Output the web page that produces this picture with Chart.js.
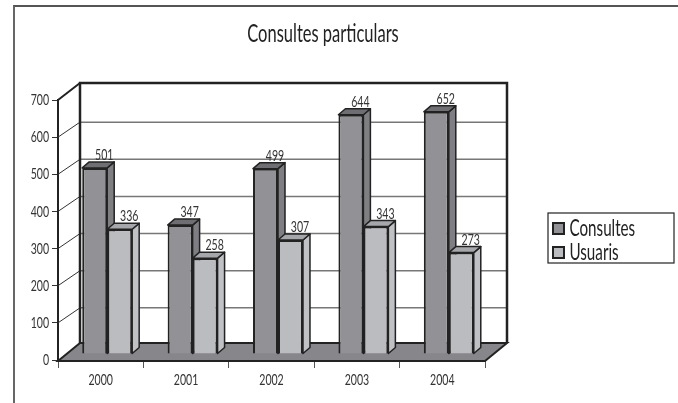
<!DOCTYPE html>
<html>
<head>
<meta charset="utf-8">
<title>Consultes particulars</title>
<script src="https://cdn.jsdelivr.net/npm/chart.js@4"></script>
<style>
	html, body { margin: 0; padding: 0; background: #fff; overflow: hidden; }
	#frame { position: absolute; left: 13px; top: 5px; width: 665px; height: 398px; border-left: 2px solid #666; border-top: 2px solid #555; box-sizing: border-box; }
	#wrap { position: absolute; left: 0; top: 0; width: 678px; height: 403px; }
</style>
</head>
<body>
<div id="frame"></div>
<div id="wrap"><canvas id="myChart" width="678" height="403"></canvas></div>
<script>
const years = ['2000', '2001', '2002', '2003', '2004'];
const consultes = [501, 347, 499, 644, 652];
const usuaris = [336, 258, 307, 343, 273];
const yTicks = [0, 100, 200, 300, 400, 500, 600, 700];

const face = 'Lato, sans-serif';
const ink = '#222';

//depth of the box the chart stands in, and of the bars inside it
const wall = {dx: 22, dy: -18, gridDy: -15};
const barShift = {dx: 6.5, dy: -6};
const barDepth = {dx: 7, dy: -6};

function poly(ctx, pts, fill, stroke, width) {
	ctx.beginPath();
	pts.forEach((p, i) => i ? ctx.lineTo(p[0], p[1]) : ctx.moveTo(p[0], p[1]));
	ctx.closePath();
	if (fill) {
		ctx.fillStyle = fill;
		ctx.fill();
	}
	if (stroke) {
		ctx.strokeStyle = stroke;
		ctx.lineWidth = width;
		ctx.stroke();
	}
}

const box3d = {
	id: 'box3d',

	//title and legend sit where the picture has them, not where the layout puts them
	afterLayout(chart) {
		chart.titleBlock.left = 0;
		chart.titleBlock.right = 646;
		const lg = chart.legend;
		lg.left = 552;
		lg.top = 216;
		lg.right = 674;
		lg.bottom = 403;
	},

	beforeDatasetsDraw(chart) {
		const ctx = chart.ctx;
		const x = chart.scales.x, y = chart.scales.y;
		const l = x.left, r = x.right, b = y.getPixelForValue(0) + 1, t = y.getPixelForValue(700);

		ctx.save();
		ctx.lineJoin = 'miter';

		//grid on the back wall and on the side wall
		yTicks.slice(1, -1).forEach(v => {
			const py = y.getPixelForValue(v);
			ctx.strokeStyle = '#777';
			ctx.lineWidth = 1.5;
			ctx.beginPath();
			ctx.moveTo(l + wall.dx, py + wall.gridDy);
			ctx.lineTo(r + wall.dx, py + wall.gridDy);
			ctx.stroke();
			ctx.strokeStyle = '#333';
			ctx.lineWidth = 1;
			ctx.beginPath();
			ctx.moveTo(l, py);
			ctx.lineTo(l + wall.dx, py + wall.gridDy);
			ctx.stroke();
		});

		//floor
		poly(ctx, [[l, b], [l + wall.dx, b + wall.dy], [r + wall.dx, b + wall.dy], [r, b]], '#87878b');

		ctx.strokeStyle = ink;
		ctx.lineWidth = 2.5;
		ctx.beginPath();
		ctx.moveTo(l + wall.dx, b + wall.dy);
		ctx.lineTo(l + wall.dx, t + wall.dy + 1);
		ctx.lineTo(r + wall.dx, t + wall.dy + 1);
		ctx.lineTo(r + wall.dx, b + wall.dy);
		ctx.stroke();

		ctx.lineWidth = 2;
		ctx.beginPath();
		ctx.moveTo(l + wall.dx, b + wall.dy);
		ctx.lineTo(r + wall.dx, b + wall.dy);
		ctx.lineTo(r, b);
		ctx.lineTo(l, b);
		ctx.lineTo(l + wall.dx, b + wall.dy);
		ctx.moveTo(l, t);
		ctx.lineTo(l + wall.dx, t + wall.dy + 1);
		ctx.stroke();
		ctx.restore();

		//every bar stands a little behind the front edge of the floor
		ctx.save();
		ctx.translate(barShift.dx, barShift.dy);

		//top and side faces go first, so the fronts cover them
		const dx = barDepth.dx, dy = barDepth.dy;
		ctx.lineJoin = 'round';
		chart.data.datasets.forEach((ds, i) => {
			chart.getDatasetMeta(i).data.forEach(bar => {
				const hw = bar.width / 2;
				const x0 = bar.x - hw, x1 = bar.x + hw, top = bar.y, base = bar.base;
				poly(ctx, [[x1, top], [x1 + dx, top + dy], [x1 + dx, base + dy], [x1, base]], ds.sideColor, ink, 1.5);
				poly(ctx, [[x0, top], [x0 + dx, top + dy], [x1 + dx, top + dy], [x1, top]], ds.topColor, ink, 1.5);
			});
		});
	},

	afterDatasetsDraw(chart) {
		const ctx = chart.ctx;
		ctx.restore();

		//value labels above the bars
		ctx.save();
		ctx.font = '16px ' + face;
		ctx.fillStyle = '#333';
		ctx.textAlign = 'center';
		ctx.textBaseline = 'alphabetic';
		chart.data.datasets.forEach((ds, i) => {
			chart.getDatasetMeta(i).data.forEach((bar, j) => {
				ctx.fillText(ds.data[j], bar.x + barShift.dx + 9.5, bar.y + barShift.dy + barDepth.dy - 2);
			});
		});
		ctx.restore();
	},

	afterDraw(chart) {
		const ctx = chart.ctx;
		ctx.save();
		ctx.strokeStyle = ink;
		ctx.lineWidth = 1.2;
		ctx.strokeRect(548, 213, 126, 50);
		ctx.restore();
	}
};

Chart.defaults.font.family = face;
Chart.defaults.color = '#333';

const canvas = document.getElementById('myChart');
const context = canvas.getContext('2d');

//no condensed font is installed, so all text is squeezed sideways around its anchor
//legend text (the only 23px text) also sits closer to its swatch than Chart.js allows
const plainFillText = context.fillText;
context.fillText = function(text, x, y, maxWidth) {
	const nudge = this.font.startsWith('23px') ? -6 : 0;
	this.save();
	this.translate(x + nudge, y);
	this.scale(0.66, 1);
	plainFillText.call(this, text, 0, 0);
	this.restore();
};

new Chart(context, {
	type: 'bar',
	data: {
		labels: years,
		datasets: [{
			label: 'Consultes',
			data: consultes,
			backgroundColor: '#929296',
			borderColor: ink,
			borderWidth: 2,
			sideColor: '#7f7f83',
			topColor: '#6f6f73',
			clip: false
		}, {
			label: 'Usuaris',
			data: usuaris,
			backgroundColor: '#bbbcc0',
			borderColor: ink,
			borderWidth: 2,
			sideColor: '#c0c1c4',
			topColor: '#a6a7ab',
			clip: false
		}]
	},
	options: {
		responsive: false,
		animation: false,
		layout: {padding: {left: 0, right: 193, top: 0, bottom: 0}},
		categoryPercentage: 0.585,
		barPercentage: 1,
		plugins: {
			tooltip: {enabled: false},
			title: {
				display: true,
				text: 'Consultes particulars',
				color: '#222',
				font: {size: 25, weight: 'normal', lineHeight: 1.2},
				padding: {top: 19, bottom: 51}
			},
			legend: {
				display: true,
				position: 'chartArea',
				align: 'start',
				labels: {
					color: '#222',
					font: {size: 23},
					boxWidth: 11,
					boxHeight: 11,
					padding: 1
				}
			}
		},
		scales: {
			x: {
				afterFit(scale) { scale.height = 43; },
				border: {display: false},
				grid: {drawOnChartArea: false, drawTicks: true, tickLength: 8, color: '#555', offset: true},
				ticks: {padding: 2, color: '#333', font: {size: 16}, maxRotation: 0}
			},
			y: {
				min: 0,
				max: 700,
				afterFit(scale) { scale.width = 58; },
				border: {color: ink, width: 2},
				grid: {drawOnChartArea: false, drawTicks: true, tickLength: 6, color: '#333'},
				ticks: {stepSize: 100, padding: 3, color: '#333', font: {size: 16}}
			}
		}
	},
	plugins: [box3d]
});
</script>
</body>
</html>
